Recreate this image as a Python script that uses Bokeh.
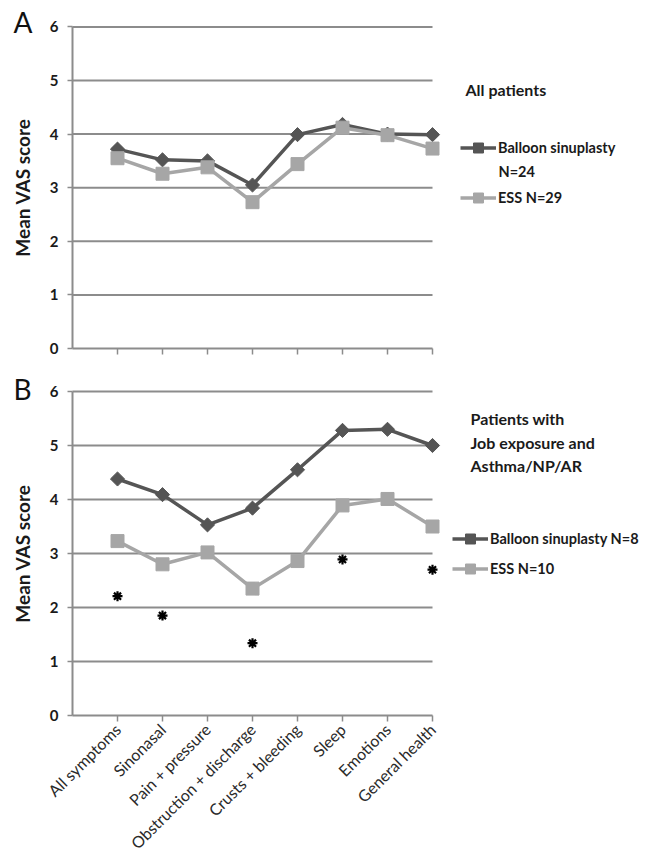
import numpy as np
from bokeh.plotting import figure
from bokeh.models import (Range1d, FixedTicker, Label, Legend, LegendItem,
                          CustomLabelingPolicy)
from bokeh.layouts import column
from bokeh.embed import file_html
from bokeh.resources import INLINE

# ---------------- data ----------------
categories = ["All symptoms", "Sinonasal", "Pain + pressure", "Obstruction + discharge",
              "Crusts + bleeding", "Sleep", "Emotions", "General health"]
x_pos = [1, 2, 3, 4, 5, 6, 7, 8]
y_ticks = [0, 1, 2, 3, 4, 5, 6]
grid_levels = [1, 2, 3, 4, 5, 6]

# Panel A: all patients
a_balloon = [3.72, 3.52, 3.50, 3.05, 3.99, 4.18, 4.00, 3.99]
a_ess = [3.55, 3.26, 3.38, 2.73, 3.44, 4.12, 3.98, 3.73]

# Panel B: patients with job exposure and asthma/NP/AR
b_balloon = [4.38, 4.09, 3.53, 3.84, 4.55, 5.28, 5.30, 5.00]
b_ess = [3.23, 2.80, 3.02, 2.35, 2.86, 3.89, 4.01, 3.50]
b_sig_x = [1, 2, 4, 6, 8]
b_sig_y = [2.21, 1.85, 1.34, 2.89, 2.70]

FONT = "Lato"
DARK = "#555555"
LIGHT = "#a6a6a6"
GRID = "#8c8c8c"
TXT = "#1a1a1a"

FIG_W = 645
AXIS_X = 72          # pixel position of the value axis
PX_PER_CAT = 45.0


def make_panel(letter, balloon, ess, bal_label, ess_label, title_lines, title_x,
               title_base, legend_x, legend_y1, legend_y2, extra_label,
               show_xlabels, plot_h, px_per_unit, below_h):
    # the frame covers the whole figure; both axes sit at value 0
    x0 = -AXIS_X / PX_PER_CAT
    x1 = (FIG_W - AXIS_X) / PX_PER_CAT
    total_h = plot_h + below_h
    p = figure(frame_width=FIG_W, frame_height=total_h, title=None,
               x_range=Range1d(x0, x1),
               y_range=Range1d(-below_h / px_per_unit, plot_h / px_per_unit),
               output_backend="svg", toolbar_location=None, min_border=0)
    p.outline_line_color = None
    p.xgrid.visible = False
    p.ygrid.visible = False

    # horizontal grid lines (only across the category area)
    p.segment(x0=[0] * len(grid_levels), x1=[8] * len(grid_levels),
              y0=grid_levels, y1=grid_levels, line_color=GRID, line_width=2)

    # series
    l1 = p.line(x_pos, balloon, line_color=DARK, line_width=3.5)
    s1 = p.scatter(x_pos, balloon, marker="square", angle=np.pi / 4, size=10,
                   fill_color=DARK, line_color=DARK)
    l2 = p.line(x_pos, ess, line_color=LIGHT, line_width=3.5)
    s2 = p.scatter(x_pos, ess, marker="square", size=13,
                   fill_color=LIGHT, line_color=LIGHT)

    # axes
    p.yaxis.fixed_location = 0
    p.xaxis.fixed_location = 0
    p.xaxis.bounds = (0, 8)
    p.yaxis.bounds = (0, 6)
    p.xaxis.ticker = FixedTicker(ticks=x_pos)
    p.yaxis.ticker = FixedTicker(ticks=y_ticks)
    for ax in (p.xaxis[0], p.yaxis[0]):
        ax.axis_line_color = GRID
        ax.axis_line_width = 2
        ax.major_tick_line_color = GRID
        ax.major_tick_line_width = 1.5
        ax.major_tick_in = 0
        ax.minor_tick_line_color = None
    p.xaxis.major_tick_out = 6
    p.yaxis.major_tick_out = 5
    p.yaxis.major_label_standoff = 9
    p.yaxis.major_label_text_font = FONT
    p.yaxis.major_label_text_font_size = "15px"
    p.yaxis.major_label_text_font_style = "bold"
    p.yaxis.major_label_text_color = TXT
    p.yaxis.axis_label = "Mean VAS score"
    p.yaxis.axis_label_text_font = FONT
    p.yaxis.axis_label_text_font_size = "19px"
    p.yaxis.axis_label_text_font_style = "bold"
    p.yaxis.axis_label_text_color = TXT
    p.yaxis.axis_label_standoff = 13

    if show_xlabels:
        p.xaxis.major_label_overrides = {x: c for x, c in zip(x_pos, categories)}
        p.xaxis.major_label_orientation = np.pi / 4
        p.xaxis.major_label_text_font = FONT
        p.xaxis.major_label_text_font_size = "16px"
        p.xaxis.major_label_text_color = "#2a2a2a"
        p.xaxis.major_label_standoff = 5
    else:
        p.xaxis.major_label_policy = CustomLabelingPolicy(
            code="for (const i of indices) indices.unset(i); return indices")

    off = below_h   # screen offsets below are measured from the value-0 line

    # panel letter (top-left)
    p.add_layout(Label(x=13, y=327 + off, x_units="screen", y_units="screen",
                       text=letter, text_font=FONT, text_font_size="28px",
                       text_color="#111111", text_baseline="alphabetic"))

    # title lines at right
    for i, t in enumerate(title_lines):
        p.add_layout(Label(x=title_x, y=title_base - 23.5 * i + off, x_units="screen",
                           y_units="screen", text=t, text_font=FONT,
                           text_font_size="16px", text_font_style="bold",
                           text_color=TXT, text_baseline="alphabetic"))

    # legends (one per item so they can be placed freely)
    common = dict(padding=0, margin=0, spacing=0, glyph_width=36, glyph_height=25,
                  label_height=25, label_standoff=2, border_line_alpha=0,
                  background_fill_alpha=0, label_text_font=FONT,
                  label_text_font_size="14.5px", label_text_font_style="bold",
                  label_text_color=TXT)
    p.add_layout(Legend(items=[LegendItem(label=bal_label, renderers=[l1, s1])],
                        location=(legend_x, legend_y1 - 12.5 + off), **common))
    p.add_layout(Legend(items=[LegendItem(label=ess_label, renderers=[l2, s2])],
                        location=(legend_x, legend_y2 - 12.5 + off), **common))
    if extra_label:
        p.add_layout(Label(x=legend_x + 38, y=legend_y1 - 24 + off, x_units="screen",
                           y_units="screen", text=extra_label, text_font=FONT,
                           text_font_size="14.5px", text_font_style="bold",
                           text_color=TXT, text_baseline="alphabetic"))
    return p


# Panel A: value 0 at 348 px, value 6 at 26 px; 22 px below -> total 370
pA = make_panel("A", a_balloon, a_ess, "Balloon sinuplasty", "ESS N=29",
                ["All patients"], 465, 259, 460, 201, 151, "N=24", False,
                348, 53.6, 22)

# Panel B: value 0 at 715 px, value 6 at 391 px; 145 px below -> total 490
pB = make_panel("B", b_balloon, b_ess, "Balloon sinuplasty N=8", "ESS N=10",
                ["Patients with", "Job exposure and", "Asthma/NP/AR"], 470, 297,
                452, 177, 147, None, True,
                345, 54.0, 145)
pB.scatter(b_sig_x, b_sig_y, marker="asterisk", size=10, line_width=2.2,
           line_color="#000000")

layout = column(pA, pB)
open("out.html", "w").write(file_html(layout, INLINE))
